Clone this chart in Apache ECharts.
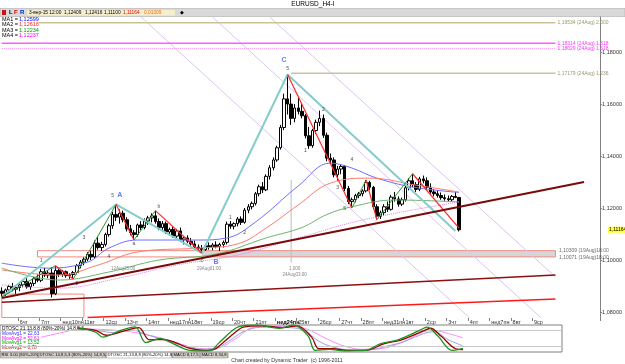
<!DOCTYPE html>
<html>
<head>
<meta charset="utf-8">
<title>EURUSD_H4-I</title>
<script src="https://cdn.jsdelivr.net/npm/echarts@6.0.0/dist/echarts.min.js"></script>
<style>
html, body { margin: 0; padding: 0; background: #ffffff; }
#chart { width: 625px; height: 364px; }
</style>
</head>
<body>
<div id="chart"></div>
<script>
// EURUSD H4 bars, 5 Aug - 3 Sep 2015
const open = [
  1.0880,1.0872,1.0885,1.0898,1.0888,1.0894,1.0905,1.0918,1.0897,1.0910,
  1.0928,1.0922,1.0955,1.0942,1.0950,1.0870,1.0960,1.0945,1.0955,1.0940,
  1.0944,1.0952,1.0978,1.0992,1.1003,1.1022,1.1012,1.1065,1.1048,1.1060,
  1.1098,1.1132,1.1175,1.1165,1.1180,1.1155,1.1120,1.1105,1.1098,1.1135,
  1.1125,1.1150,1.1162,1.1170,1.1148,1.1125,1.1140,1.1108,1.1118,1.1092,
  1.1112,1.1078,1.1085,1.1072,1.1062,1.1050,1.1045,1.1040,1.1055,1.1050,
  1.1058,1.1052,1.1060,1.1068,1.1138,1.1130,1.1140,1.1158,1.1145,1.1192,
  1.1205,1.1218,1.1255,1.1282,1.1270,1.1322,1.1355,1.1385,1.1432,1.1510,
  1.1620,1.1600,1.1545,1.1585,1.1572,1.1555,1.1478,1.1440,1.1498,1.1530,
  1.1545,1.1480,1.1392,1.1385,1.1328,1.1350,1.1360,1.1275,1.1225,1.1232,
  1.1248,1.1255,1.1266,1.1298,1.1280,1.1205,1.1168,1.1182,1.1205,1.1195,
  1.1242,1.1235,1.1215,1.1232,1.1278,1.1305,1.1290,1.1272,1.1312,1.1305,
  1.1280,1.1262,1.1255,1.1248,1.1240,1.1236,1.1232,1.1245,1.12409
];
const high = [
  1.0895,1.0890,1.0905,1.0912,1.0900,1.0910,1.0925,1.0930,1.0915,1.0935,
  1.0945,1.0965,1.0970,1.0960,1.0972,1.0978,1.0970,1.0962,1.0960,1.0950,
  1.0958,1.0985,1.1000,1.1010,1.1030,1.1035,1.1075,1.1088,1.1070,1.1105,
  1.1140,1.1185,1.1214,1.1195,1.1190,1.1165,1.1135,1.1115,1.1140,1.1150,
  1.1160,1.1170,1.1180,1.1190,1.1160,1.1150,1.1148,1.1125,1.1130,1.1120,
  1.1125,1.1090,1.1095,1.1085,1.1075,1.1060,1.1058,1.1062,1.1068,1.1065,
  1.1072,1.1066,1.1075,1.1148,1.1150,1.1145,1.1165,1.1168,1.1200,1.1215,
  1.1225,1.1262,1.1290,1.1300,1.1330,1.1365,1.1395,1.1440,1.1520,1.1640,
  1.1714,1.1640,1.1600,1.1625,1.1600,1.1562,1.1512,1.1505,1.1540,1.1575,
  1.1560,1.1490,1.1410,1.1395,1.1362,1.1368,1.1365,1.1285,1.1240,1.1255,
  1.1262,1.1272,1.1308,1.1305,1.1285,1.1215,1.1190,1.1215,1.1225,1.1250,
  1.1262,1.1245,1.1240,1.1285,1.1315,1.1332,1.1300,1.1320,1.1325,1.1318,
  1.1295,1.1272,1.1268,1.1260,1.1252,1.1248,1.1250,1.1262,1.12416
];
const low = [
  1.0858,1.0862,1.0875,1.0880,1.0870,1.0880,1.0895,1.0890,1.0885,1.0900,
  1.0915,1.0915,1.0935,1.0930,1.0856,1.0865,1.0935,1.0935,1.0932,1.0928,
  1.0927,1.0945,1.0968,1.0980,1.0995,1.1000,1.1008,1.1040,1.1035,1.1052,
  1.1090,1.1120,1.1150,1.1140,1.1145,1.1110,1.1095,1.1077,1.1090,1.1115,
  1.1118,1.1135,1.1145,1.1140,1.1115,1.1110,1.1100,1.1095,1.1085,1.1080,
  1.1070,1.1060,1.1065,1.1055,1.1040,1.1032,1.1027,1.1035,1.1040,1.1038,
  1.1045,1.1035,1.1048,1.1060,1.1120,1.1118,1.1130,1.1135,1.1140,1.1180,
  1.1195,1.1210,1.1245,1.1258,1.1265,1.1310,1.1345,1.1378,1.1425,1.1500,
  1.1560,1.1520,1.1530,1.1560,1.1545,1.1468,1.1428,1.1432,1.1485,1.1515,
  1.1470,1.1380,1.1370,1.1318,1.1305,1.1330,1.1265,1.1215,1.1200,1.1222,
  1.1238,1.1245,1.1260,1.1270,1.1195,1.1155,1.1158,1.1170,1.1185,1.1190,
  1.1225,1.1205,1.1208,1.1225,1.1268,1.1280,1.1262,1.1265,1.1295,1.1270,
  1.1255,1.1245,1.1240,1.1232,1.1228,1.1225,1.1224,1.1238,1.11100
];
const close = [
  1.0872,1.0885,1.0898,1.0888,1.0894,1.0905,1.0918,1.0897,1.0910,1.0928,
  1.0922,1.0955,1.0942,1.0950,1.0870,1.0960,1.0945,1.0955,1.0940,1.0944,
  1.0952,1.0978,1.0992,1.1003,1.1022,1.1012,1.1065,1.1048,1.1060,1.1098,
  1.1132,1.1175,1.1165,1.1180,1.1155,1.1120,1.1105,1.1098,1.1135,1.1125,
  1.1150,1.1162,1.1170,1.1148,1.1125,1.1140,1.1108,1.1118,1.1092,1.1112,
  1.1078,1.1085,1.1072,1.1062,1.1050,1.1045,1.1040,1.1055,1.1050,1.1058,
  1.1052,1.1060,1.1068,1.1138,1.1130,1.1140,1.1158,1.1145,1.1192,1.1205,
  1.1218,1.1255,1.1282,1.1270,1.1322,1.1355,1.1385,1.1432,1.1510,1.1620,
  1.1600,1.1545,1.1585,1.1572,1.1555,1.1478,1.1440,1.1498,1.1530,1.1545,
  1.1480,1.1392,1.1385,1.1328,1.1350,1.1360,1.1275,1.1225,1.1232,1.1248,
  1.1255,1.1266,1.1298,1.1280,1.1205,1.1168,1.1182,1.1205,1.1195,1.1242,
  1.1235,1.1215,1.1232,1.1278,1.1305,1.1290,1.1272,1.1312,1.1305,1.1280,
  1.1262,1.1255,1.1248,1.1240,1.1236,1.1232,1.1245,1.1241,1.11164
];

// day ticks: first at bar 5, then one every 6 bars
const dayLabels = [
  '6чт','7пт','нед10пн','11вт','12ср','13чт','14пт','нед17пн','18вт','19ср',
  '20чт','21пт','нед24пн','25вт','26ср','27чт','28пт','нед31пн','1вт','2ср',
  '3чт','4пт','нед7пн','8вт','9ср'
];
const priceTicks = [1.08, 1.10, 1.12, 1.14, 1.16, 1.18];

// moving averages as [bar, price]
const ma1 = [[0,1.0988],[13,1.0969],[24,1.0992],[30,1.1046],[38,1.1077],[55,1.1077],[63,1.1085],[71,1.1146],[83,1.1285],[92,1.1373],[98,1.1354],[105,1.1315],[115,1.1281],[128,1.12599]];
const ma2 = [[0,1.0962],[16,1.0942],[27,1.0981],[38,1.1031],[55,1.1046],[66,1.1062],[74,1.1123],[83,1.1212],[92,1.1296],[103,1.1315],[116,1.1288],[128,1.12616]];
const ma3 = [[0,1.0969],[16,1.0923],[30,1.0954],[44,1.1000],[60,1.1023],[74,1.1085],[84,1.1125],[91,1.1175],[98,1.1205],[110,1.1231],[128,1.12234]];
const ma4 = [[0,1.0904],[16,1.0892],[33,1.0931],[49,1.0981],[66,1.1019],[83,1.1085],[101,1.1154],[128,1.12237]];

// swing lines [bar, price]
const tealSwing = [[0,1.0858],[32,1.1214],[56,1.1027],[80,1.1714],[127,1.1112]];
const redSwings = [
  [[15,1.0978],[20,1.0927]], [[32,1.1214],[37,1.1077]], [[43,1.1190],[56,1.1027]],
  [[80,1.1714],[98,1.1200]], [[102,1.1308],[105,1.1155]], [[115,1.1332],[128,1.1123]]
];
const greenSwings = [
  [[0,1.0858],[15,1.0978]], [[20,1.0927],[32,1.1214]], [[37,1.1077],[43,1.1190]],
  [[98,1.1200],[102,1.1308]], [[105,1.1155],[115,1.1332]]
];

// trend lines and channel lines
const trendMain = [[0,1.0854],[163,1.1300]];
const trendLow = [[0,1.0838],[155,1.0942]];
const trendRed = [[24,1.0779],[155,1.0850]];
const channel = [
  [[39,1.1935],[131,1.0777]],
  [[59,1.1935],[151,1.0777]],
  [[75,1.1935],[155,1.0935]]
];

// projection levels
const fibLevels = [1.1913, 1.1834, 1.1814, 1.1719];
const fibStart = [10, 0, 0, 81];
const fibText = ['1,19534 (24Aug) 2.000', '1,18314 (24Aug) 1.618', '1,18029 (24Aug) 1.618', '1,17179 (24Aug) 1.236'];

// support zone
const zoneTop = 1.1036, zoneBottom = 1.1012;
const zoneText = ['1,10309 (19Aug)18:00', '1,10071 (19Aug)18:00'];

// wave labels [text, bar, price]
const waveBig = [['A',33,1.1250],['B',60,1.0994],['C',79,1.1768]];
const waveSmall = [
  ['1',11,1.0999],['2',21,1.0910],['3',23,1.1085],['4',30,1.1012],['5',31,1.1246],
  ['a',37,1.1064],['b',44,1.1206],['c',56,1.0998],['1',64,1.1162],['2',68,1.1104],
  ['5',80,1.1738],['1',85,1.1420],['2',90,1.1580],['3',94,1.1277],['4',98,1.1388],['5',96,1.1198]
];
const timeNotes = [['12Aug15:00',34,1.0965],['19Aug01:00',58,1.0965],['1,000',82,1.0968],['24Aug03:00',82,1.0944]];

// oscillator DTOSC 21,13,8,8 [bar, value]
const oscFast = [[21,90],[26,74],[28,55],[33,80],[37,93],[40,35],[44,50],[47,35],[51,10],[55,4],[58,5],[60,30],[64,80],[66,95],[71,100],[77,88],[81,100],[85,60],[87,6],[91,10],[95,4],[99,5],[101,6],[105,30],[110,45],[116,80],[118,92],[121,60],[125,6],[128,13.52]];
const oscFastSig = [[21,88],[26,80],[29,62],[34,78],[38,90],[41,45],[45,46],[48,36],[52,14],[56,6],[59,10],[61,30],[65,75],[67,92],[72,97],[78,90],[82,97],[86,55],[88,12],[92,12],[96,6],[100,6],[102,8],[106,30],[111,45],[117,78],[119,88],[122,58],[126,12],[128,8.78]];
const oscSlow = [[21,85],[27,78],[31,72],[36,82],[40,65],[45,45],[50,25],[55,10],[59,12],[63,40],[67,75],[72,92],[80,90],[84,80],[88,40],[92,18],[97,8],[102,8],[107,22],[112,40],[117,68],[120,75],[124,45],[128,22.63]];
const oscSlowSig = [[11,55],[16,70],[22,85],[30,82],[38,70],[46,45],[52,20],[56,12],[60,15],[65,50],[70,92],[78,95],[84,88],[90,50],[95,22],[100,10],[105,12],[111,35],[117,75],[120,80],[124,68],[128,52.61]];

const FONT = 'Liberation Sans';
const N = 168;      // time slots on the main chart, the empty right side included
const NOSC = 156;   // the oscillator pane is narrower
const cats = Array.from({length: N}, (_, i) => 'b' + i);
const tickMap = new Map(dayLabels.map((t, k) => [5 + 6 * k, t]));
const fmt = p => p.toFixed(5).replace('.', ',');
const fmt2 = v => v.toFixed(2).replace('.', ',');
const last = a => a[a.length - 1][1];

const chart = echarts.init(document.getElementById('chart'));

function seg(pts, color, width, type, z) {
  return {
    type: 'line', xAxisIndex: 0, yAxisIndex: 0, data: pts, symbol: 'none', silent: true,
    lineStyle: { color: color, width: width, type: type || 'solid' }, z: z || 3
  };
}

const series = [];

channel.forEach(p => series.push(seg(p, '#dcc4f2', 1, 'solid', 1)));

fibLevels.forEach((lv, k) => {
  const colors = ['#c9c39a', '#ff5cff', '#ff8cff', '#c9c39a'];
  const s = seg([[fibStart[k], lv], [155, lv]], colors[k], k === 2 ? 1 : 1.5, k === 2 ? 'dotted' : 'solid', 2);
  s.endLabel = { show: true, formatter: fibText[k], color: k === 1 || k === 2 ? '#ff33ff' : '#9a9670', fontSize: 5, fontFamily: FONT, distance: 2 };
  series.push(s);
});

// zone boxes
series.push({
  type: 'line', data: [], xAxisIndex: 0, yAxisIndex: 0, silent: true, z: 1,
  markArea: {
    silent: true,
    data: [
      [{ coord: [56, zoneTop], itemStyle: { color: '#d6d6d6', borderWidth: 0 } }, { coord: [155, zoneBottom] }],
      [{ coord: [10, zoneTop], itemStyle: { color: 'rgba(0,0,0,0)', borderColor: '#f08a80', borderWidth: 1 } }, { coord: [155, zoneBottom] }],
      [{ coord: [0, 1.0869], itemStyle: { color: 'rgba(0,0,0,0)', borderColor: '#f08a80', borderWidth: 1 } }, { coord: [23, 1.0779] }]
    ]
  }
});
series.push({
  type: 'scatter', xAxisIndex: 0, yAxisIndex: 0, silent: true, symbolSize: 1,
  itemStyle: { color: 'transparent' },
  data: [{ value: [155, zoneTop + 0.0002], name: zoneText[0] }, { value: [155, zoneBottom - 0.0002], name: zoneText[1] }],
  label: { show: true, position: 'right', distance: 3, formatter: p => p.name, fontSize: 5, color: '#444', fontFamily: FONT }
});

// vertical marker under C
series.push(seg([[81, 1.1308], [81, 1.0990]], '#bdbdbd', 1, 'solid', 1));

series.push({
  type: 'candlestick', xAxisIndex: 0, yAxisIndex: 0, barWidth: 3, z: 2,
  data: open.map((o, i) => [o, close[i], low[i], high[i]]),
  itemStyle: { color: '#ffffff', color0: '#000000', borderColor: '#000000', borderColor0: '#000000', borderWidth: 1 }
});

[[ma1, '#6e6eff', 'solid'], [ma2, '#ff7a6e', 'solid'], [ma3, '#6fb46f', 'solid'], [ma4, '#e080e8', 'dotted']].forEach(m => {
  const s = seg(m[0], m[1], 1, m[2], 3);
  s.smooth = 0.4;
  series.push(s);
});

series.push(seg(tealSwing, '#86cccc', 2, 'solid', 4));
redSwings.forEach(p => series.push(seg(p, '#ff2b2b', 1.2, 'solid', 5)));
greenSwings.forEach(p => series.push(seg(p, '#2f8f2f', 1, 'solid', 5)));
series.push(seg(trendMain, '#7a0a0a', 2, 'solid', 6));
series.push(seg(trendLow, '#8b1010', 1.5, 'solid', 6));
series.push(seg(trendRed, '#ff1a1a', 1.5, 'solid', 6));

function labels(list, color, size, weight) {
  return {
    type: 'scatter', xAxisIndex: 0, yAxisIndex: 0, silent: true, symbolSize: 1, z: 8,
    itemStyle: { color: 'transparent' },
    data: list.map(d => ({ value: [d[1], d[2]], name: d[0] })),
    label: { show: true, position: 'inside', formatter: p => p.name, color: color, fontSize: size, fontWeight: weight, fontFamily: FONT }
  };
}
series.push(labels(waveBig, '#3a5cff', 7, 'bold'));
series.push(labels(waveSmall, '#222222', 5, 'normal'));
series.push(labels(timeNotes, '#666666', 4.5, 'normal'));

// oscillator pane
[[oscSlowSig, '#ff88ff'], [oscSlow, '#9c9ce0'], [oscFastSig, '#9a0000'], [oscFast, '#1f8f1f']].forEach((o, k) => {
  series.push({
    type: 'line', xAxisIndex: 1, yAxisIndex: 1, data: o[0], symbol: 'none', smooth: 0.35, silent: true,
    lineStyle: { color: o[1], width: k < 2 ? 1 : 1.3 }, z: 3 + k,
    markLine: k === 0 ? { silent: true, symbol: 'none', label: { show: false },
      lineStyle: { color: '#c8c8c8', width: 1, type: 'solid' }, data: [{ yAxis: 80 }, { yAxis: 20 }] } : undefined
  });
});

const option = {
  animation: false,
  backgroundColor: '#ffffff',
  grid: [
    { left: 0, right: 18, top: 17, height: 301 },
    { left: 0, right: 63, top: 325, height: 27, show: true, borderColor: '#808080', borderWidth: 1, backgroundColor: '#ffffff' }
  ],
  xAxis: [
    {
      gridIndex: 0, type: 'category', data: cats, boundaryGap: true,
      axisLine: { show: false },
      axisTick: { show: true, interval: i => tickMap.has(i), length: 3, lineStyle: { color: '#808080' } },
      axisLabel: {
        interval: i => tickMap.has(i),
        formatter: (v, i) => (i === 5 + 6 * 12 ? '{b|' + tickMap.get(i) + '}' : tickMap.get(i)),
        align: 'left', fontSize: 5.5, color: '#333', margin: 1, fontFamily: FONT,
        rich: { b: { fontWeight: 'bold', fontSize: 5.5, color: '#000', fontFamily: FONT } }
      },
      splitLine: { show: false }
    },
    { gridIndex: 1, type: 'category', data: cats.slice(0, NOSC), boundaryGap: true, show: false }
  ],
  yAxis: [
    {
      gridIndex: 0, type: 'value', position: 'right', min: 1.0777, max: 1.1935,
      axisLine: { show: true, lineStyle: { color: '#808080' } },
      axisTick: { show: true, customValues: priceTicks, length: 2, lineStyle: { color: '#808080' } },
      axisLabel: { customValues: priceTicks, formatter: v => fmt(v), fontSize: 5.5, color: '#333', margin: 2, fontFamily: FONT },
      splitLine: { show: false }
    },
    { gridIndex: 1, type: 'value', min: 0, max: 100, show: false, splitLine: { show: false } }
  ],
  series: series
};
chart.setOption(option);

// everything around the plot: title, toolbar, legends, tabs, footer
const lastClose = close[close.length - 1];
const yTag = chart.convertToPixel({ yAxisIndex: 0 }, lastClose);
const t = (x, y, text, fill, size, extra) => Object.assign({
  type: 'text', x: x, y: y, silent: true,
  style: Object.assign({ text: text, fill: fill || '#000', fontSize: size || 5.5, fontFamily: FONT, verticalAlign: 'middle' }, extra || {})
});
const tabs = ['RSI 3.00 (80%-20%)', 'DTOSC 14,8,5,3 (80%-20%) 14,8,5,3', 'DTOSC 21,13,8,8 (80%-20%) 14,8,5,3', 'MACD 8,17,5', 'MACD 8,34,8'];
const tabX = [0, 38, 106, 172, 200, 228];
const g = [
  t(313, 4, 'EURUSD_H4-I', '#000', 6.5, { align: 'center' }),
  { type: 'rect', shape: { x: 0, y: 8.5, width: 625, height: 8 }, style: { fill: '#d9d9d9', stroke: '#a0a0a0', lineWidth: 0.5 }, silent: true },
  { type: 'rect', shape: { x: 2, y: 10, width: 4, height: 5 }, style: { fill: '#cc1111' }, silent: true },
  t(9, 12.5, 'L', '#000', 6, { fontWeight: 'bold' }),
  t(14, 12.5, 'F', '#c00', 6, { fontWeight: 'bold' }),
  t(20, 12.5, 'R', '#0020c0', 6, { fontWeight: 'bold' }),
  { type: 'rect', shape: { x: 27, y: 10, width: 148, height: 5.5 }, style: { fill: '#f3efcf' }, silent: true },
  t(29, 12.8, '3-вер-15 12:00', '#000', 4.8),
  t(64, 12.8, fmt(open[open.length - 1]), '#000', 4.8),
  t(85, 12.8, fmt(high[high.length - 1]), '#000', 4.8),
  t(104, 12.8, fmt(low[low.length - 1]), '#000', 4.8),
  t(123, 12.8, fmt(lastClose), '#e00000', 4.8),
  t(144, 12.8, '0,01309', '#ff6a00', 4.8),
  t(180, 12.8, '◆', '#000', 5),
  t(2, 19, '', '#000', 5.5, { rich: {} }),
  { type: 'rect', shape: { x: 608, y: yTag - 3, width: 17, height: 6 }, style: { fill: '#ffff33' }, silent: true },
  t(609, yTag, fmt(lastClose), '#000', 5)
];
[ma1, ma2, ma3, ma4].forEach((m, k) => {
  const col = ['#0000ff', '#ff2020', '#00a000', '#ff00ff'][k];
  g.push(t(2, 19 + k * 5.5, 'MA' + (k + 1) + ' = ', '#000', 5.5));
  g.push(t(19, 19 + k * 5.5, fmt(last(m)), col, 5.5));
});
g.push(t(2, 328.5, 'DTOSC 21,13,8,8 (80%-20%) 14,8,5,3', '#000', 4.8));
[['MovAvg1 = ' + fmt2(last(oscSlow)), '#3030ff'], ['MovAvg2 = ' + fmt2(last(oscSlowSig)), '#ff00ff'],
 ['MovAvg1 = ' + fmt2(last(oscFast)), '#00a000'], ['MovAvg2 = ' + fmt2(last(oscFastSig)), '#e00000']].forEach((m, k) => {
  g.push(t(2, 333.5 + k * 4.8, m[0], m[1], 4.8));
});
g.push({ type: 'rect', shape: { x: 0, y: 352.5, width: 229, height: 5.5 }, style: { fill: '#d4d0c8' }, silent: true });
tabs.forEach((s, k) => {
  g.push({ type: 'rect', shape: { x: tabX[k] + 0.5, y: 352.5, width: tabX[k + 1] - tabX[k] - 1, height: 5.5 },
    style: { fill: k === 2 ? '#ffffff' : '#d4d0c8', stroke: '#808080', lineWidth: 0.5 }, silent: true });
  g.push(t(tabX[k] + 1.5, 355.3, s, '#000', 4.2));
});
g.push(t(287, 361, 'Chart created by Dynamic Trader  (c) 1996-2011', '#333', 5.2, { align: 'center' }));
chart.setOption({ graphic: g });
</script>
</body>
</html>
